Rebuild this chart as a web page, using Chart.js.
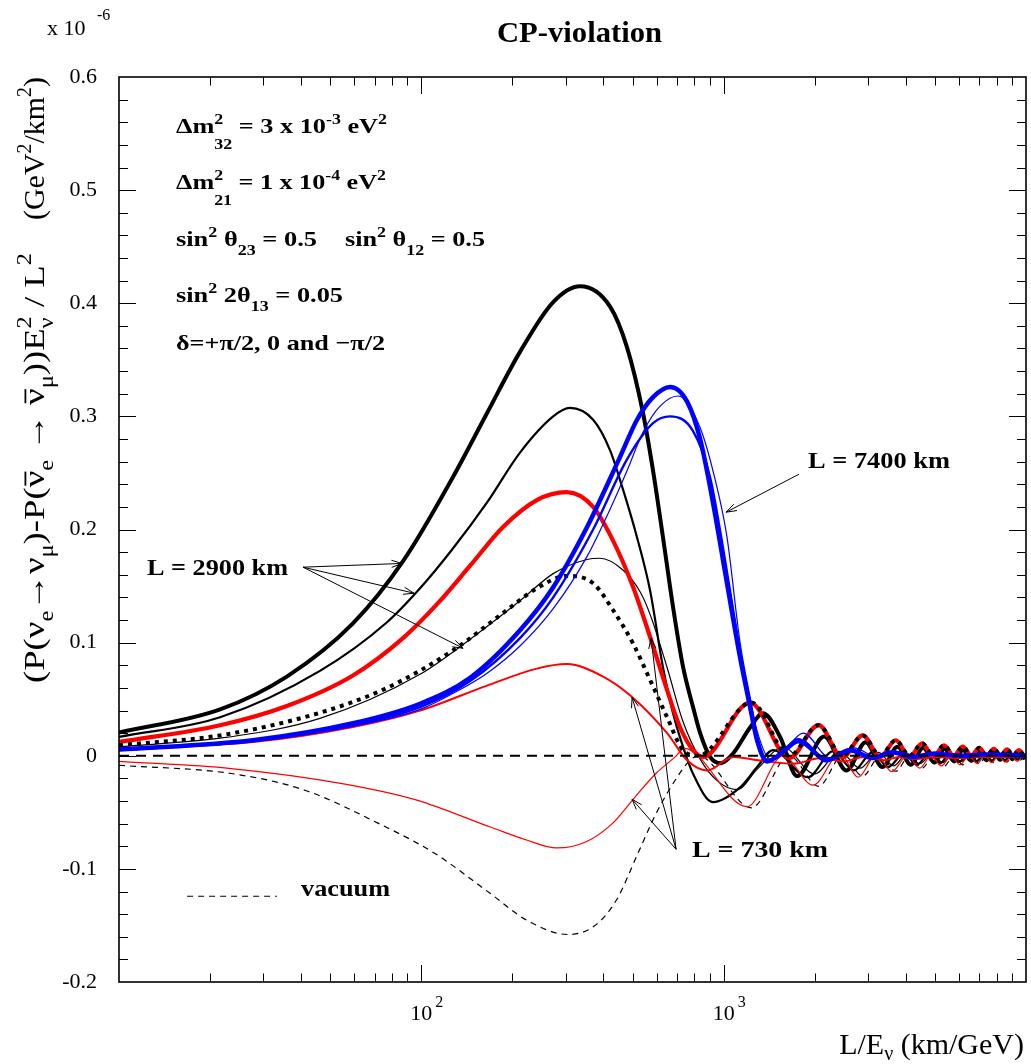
<!DOCTYPE html>
<html><head><meta charset="utf-8">
<script src="https://cdn.jsdelivr.net/npm/chart.js@4.4.1/dist/chart.umd.min.js"></script>
<style>html,body{margin:0;padding:0;background:#fff}#wrap{width:1031px;height:1064px}</style>
</head><body><div id="wrap"><canvas id="c" width="1031" height="1064"></canvas></div>
<script>
// ---------------- data ----------------
// L = 2900 km (black)
const aX = [10,21.6,35.9,59.4,87,127,165,212,273,335,421,479,541,584,630,680,734,792,836,902,973,1074,1223,1350,1537,1750,2150,2550,2950,3350,3760,4160,4570,4970,5380,5780,6190,6590,7000,7400,7810,8210,8620,9020,9430,9830,10000];
const aY = [0.0205,0.041,0.070,0.117,0.172,0.246,0.303,0.357,0.401,0.415,0.397,0.361,0.303,0.252,0.193,0.1316,0.0785,0.043,0.020,-0.001,-0.0066,0.002,0.025,0.0375,0.0166,-0.018,0.017,-0.013,0.012,-0.010,0.008,-0.008,0.007,-0.006,0.006,-0.005,0.005,-0.0045,0.0045,-0.004,0.004,-0.0035,0.0035,-0.003,0.003,-0.002,0];
const bX = [10,21.6,46.2,77,99,127,165,212,273,310,370,421,465,517,571,630,680,734,792,922,1133,1290,1457,1900,2300,2700,3100,3500,3950,4350,4800,5200,5600,6000,6450,6850,7250,7700,8100,8500,8950,9350,9800,10000];
const bY = [0.0166,0.034,0.075,0.118,0.148,0.183,0.224,0.268,0.300,0.3075,0.297,0.270,0.235,0.193,0.146,0.078,0.0375,0.0078,-0.016,-0.041,-0.028,-0.010,0.005,-0.019,0.004,-0.013,0.003,-0.010,0.002,-0.008,0.002,-0.0065,0.002,-0.0055,0.0015,-0.005,0.001,-0.0045,0.001,-0.004,0.001,-0.0035,0,-0.001];
const eX = [10,21.6,46.2,99,145,212,273,353,390,465,529,571,650,734,836,951,1108,1290,1573,2000,2420,2820,3250,3650,4050,4450,4900,5300,5700,6100,6500,6900,7350,7750,8150,8550,8950,9350,9800,10000];
const eY = [0.008,0.0155,0.033,0.072,0.103,0.137,0.161,0.1735,0.1746,0.164,0.145,0.125,0.078,0.030,-0.003,-0.022,-0.030,-0.012,0.0075,-0.016,0.004,-0.011,0.003,-0.009,0.002,-0.007,0.0015,-0.006,0.001,-0.005,0.001,-0.0045,0.001,-0.004,0.0008,-0.0035,0.0008,-0.003,0,0];
// L = 730 km (red)
const cX = [10,21.6,35.9,59.4,87,112.7,145,186,241,303,370,431,502,571,650,718,792,855,1223,1648,2060,2472,2884,3296,3708,4120,4532,4944,5356,5768,6180,6592,7004,7416,7828,8240,8652,9064,9476,9888,10000];
const cY = [0.0122,0.027,0.044,0.071,0.104,0.134,0.168,0.202,0.226,0.233,0.22,0.19,0.149,0.105,0.058,0.025,0.005,-0.001,0.047,-0.002,0.027,-0.0015,0.018,-0.001,0.0137,-0.001,0.011,-0.001,0.0093,0,0.008,0,0.007,0,0.0062,0,0.0056,0,0.005,0,0.0003];
const iX = [10,27.7,59.4,99,165,241,303,399,490,650,757,881,1074,1300,1700,2100,2500,2900,3400,3800,4300,5000,6000,7000,8500,10000];
const iY = [0.0066,0.0122,0.0255,0.040,0.062,0.077,0.081,0.070,0.0535,0.020,-0.004,-0.013,-0.001,-0.004,-0.007,-0.002,-0.005,-0.001,-0.004,-0.001,-0.003,-0.001,-0.002,-0.001,-0.001,0];
const jX = [10,23.5,54.7,96,169,224,280,351,428,505,598,691,740,1195,1573,1976,2427,2784,3200,3600,4050,4450,4850,5250,5650,6050,6480,6900,7300,7700,8100,8550,8950,9350,9800,10000];
const jY = [-0.0049,-0.0113,-0.0246,-0.039,-0.063,-0.0747,-0.0815,-0.076,-0.060,-0.0376,-0.0155,-0.001,0.0066,-0.045,0.000,-0.026,0.002,-0.019,0.001,-0.014,0.0,-0.011,0,-0.009,0,-0.008,0,-0.007,0,-0.006,0,-0.0055,0,-0.005,0,0];
// vacuum (black dashed / dotted)
const dX = [10,21.6,46.2,77,127,186,241,303,370,431,502,571,650,734,824,1236,1648,2060,2472,2884,3296,3708,4120,4532,4944,5356,5768,6180,6592,7004,7416,7828,8240,8652,9064,9476,9888,10000];
const dY = [0.0093,0.018,0.038,0.060,0.093,0.126,0.148,0.159,0.1525,0.1286,0.099,0.067,0.034,0.005,0,0.047,0,0.027,0,0.018,0,0.0137,0,0.011,0,0.0093,0,0.008,0,0.007,0,0.0062,0,0.0056,0,0.005,0,0.0003];
const kX = [10,23.5,41.2,72.4,110.6,168.8,223.7,304.8,371,441,521,598,691,774,824,1236,1648,2060,2472,2884,3296,3708,4120,4532,4944,5356,5768,6180,6592,7004,7416,7828,8240,8652,9064,9476,9888,10000];
const kY = [-0.0084,-0.0157,-0.0305,-0.060,-0.0862,-0.1216,-0.1455,-0.158,-0.151,-0.128,-0.086,-0.051,-0.0217,-0.004,0,-0.046,0,-0.027,0,-0.018,0,-0.0137,0,-0.011,0,-0.0093,0,-0.008,0,-0.007,0,-0.0062,0,-0.0056,0,-0.005,0,-0.0003];
const zX = [10,10000];
const zY = [0,0];
// L = 7400 km (blue)
const fX = [10,27.7,59.4,99,145,212,273,353,454,517,584,665,757,836,923,995,1133,1223,1290,1392,1621,1763,2198,2619,3100,3600,4200,5000,6000,7500,10000];
const fY = [0.0055,0.0137,0.0287,0.046,0.069,0.111,0.149,0.202,0.264,0.297,0.317,0.326,0.313,0.280,0.223,0.173,0.087,0.043,0.0137,-0.005,0.0066,0.0137,-0.004,0.005,-0.002,0.003,-0.001,0.002,0,0.001,0];
const gX = [10,27.7,59.4,99,127,165,212,273,353,421,479,541,616,707,836,951,1026,1133,1223,1290,1430,1650,1831,2250,2700,3200,3700,4300,5000,6500,10000];
const gY = [0.005,0.013,0.026,0.041,0.055,0.073,0.097,0.130,0.176,0.218,0.252,0.286,0.309,0.318,0.290,0.237,0.193,0.10,0.052,0.022,-0.003,0.01,0.020,-0.002,0.007,-0.001,0.004,0,0.002,0.001,0];
const hX = [10,27.7,59.4,99,145,212,273,370,479,584,665,792,902,973,1133,1223,1290,1392,1621,1763,2198,2619,3100,3600,4200,5000,6000,10000];
const hY = [0.005,0.013,0.027,0.043,0.066,0.104,0.140,0.200,0.262,0.294,0.300,0.287,0.246,0.199,0.092,0.045,0.015,-0.004,0.006,0.012,-0.003,0.004,-0.002,0.003,-0.001,0.002,0,0];

// axis ticks
const xMajor = [100, 1000];
const xMajorExp = ['2', '3'];
const xMinorMult = [2,3,4,5,6,7,8,9];
const xDecades = [10, 100, 1000];
const yMin = -0.2, yMax = 0.6, yStep = 0.1, yMinorStep = 0.02;

// ---------------- drawing ----------------
const SERIF = '"Liberation Serif","Times New Roman",serif';
function ds(label, xs, ys, color, width, dash) {
  return { label, data: xs.map((x, i) => ({ x, y: ys[i] })), borderColor: color, borderWidth: width,
    borderDash: dash || [], pointRadius: 0, pointHoverRadius: 0, fill: false,
    cubicInterpolationMode: 'monotone', borderCapStyle: 'butt', borderJoinStyle: 'round' };
}
const datasets = [
  ds('vacuum δ=0', zX, zY, '#000', 2, [10, 7]),
  ds('7400 a', fX, fY, '#0000ff', 4.5),
  ds('7400 b', hX, hY, '#0000ff', 2.4),
  ds('7400 c', gX, gY, '#0000ff', 1.2),
  ds('vacuum +', dX, dY, '#000', 4, [4, 5]),
  ds('730 a', cX, cY, '#ff0000', 4.2),
  ds('730 b', iX, iY, '#ff0000', 2),
  ds('730 c', jX, jY, '#ff0000', 1.2),
  ds('2900 a', aX, aY, '#000', 4),
  ds('2900 b', bX, bY, '#000', 2.2),
  ds('2900 c', eX, eY, '#000', 1.2),
  ds('vacuum -', kX, kY, '#000', 1.2, [6, 5])
];

function richDraw(ctx, x0, y0, parts, doDraw) {
  let x = x0;
  for (const p of parts) {
    if (p.stack) {
      let w = 0;
      for (const s of p.stack) {
        ctx.font = s.font;
        if (doDraw) ctx.fillText(s.t, x, y0 + (s.dy || 0));
        w = Math.max(w, ctx.measureText(s.t).width);
      }
      x += w;
    } else {
      ctx.font = p.font;
      const w = ctx.measureText(p.t).width;
      if (doDraw) {
        ctx.fillText(p.t, x, y0 + (p.dy || 0));
        if (p.bar) {
          ctx.save(); ctx.lineWidth = Math.max(1, p.size * 0.06);
          ctx.beginPath(); ctx.moveTo(x + w * 0.1, y0 - p.size * 0.62); ctx.lineTo(x + w * 0.95, y0 - p.size * 0.62); ctx.stroke();
          ctx.restore();
        }
      }
      x += w;
    }
  }
  return x - x0;
}
function F(t, size, bold, dy, extra) {
  return Object.assign({ t, size, font: (bold ? 'bold ' : '') + size + 'px ' + SERIF, dy: dy || 0 }, extra || {});
}
// draw rich text stretched horizontally so it spans [x0, x1]
function fitRich(ctx, x0, x1, y0, parts) {
  const w = richDraw(ctx, 0, 0, parts, false);
  const sx = (x1 - x0) / w;
  ctx.save(); ctx.translate(x0, y0); ctx.scale(sx, 1);
  richDraw(ctx, 0, 0, parts, true);
  ctx.restore();
}

function arrow(ctx, x1, y1, x2, y2) {
  ctx.beginPath(); ctx.moveTo(x1, y1); ctx.lineTo(x2, y2); ctx.stroke();
  const ang = Math.atan2(y2 - y1, x2 - x1), L = 11, h = 0.33;
  ctx.beginPath();
  ctx.moveTo(x2 - L * Math.cos(ang - h), y2 - L * Math.sin(ang - h));
  ctx.lineTo(x2, y2);
  ctx.lineTo(x2 - L * Math.cos(ang + h), y2 - L * Math.sin(ang + h));
  ctx.stroke();
}

const deco = {
  id: 'deco',
  afterDraw(chart) {
    const { ctx, chartArea: a, scales: { x, y } } = chart;
    ctx.save();
    ctx.fillStyle = '#000'; ctx.strokeStyle = '#000';
    // ticks
    ctx.lineWidth = 1;
    ctx.beginPath();
    for (const d of xDecades) for (const m of [1, ...xMinorMult]) {
      const v = d * m;
      if (v <= 10 || v >= 10000) continue;
      const px = Math.round(x.getPixelForValue(v)) + 0.5;
      const len = m === 1 ? 17 : 8.5;
      ctx.moveTo(px, a.bottom); ctx.lineTo(px, a.bottom - len);
      ctx.moveTo(px, a.top); ctx.lineTo(px, a.top + len);
    }
    const nMinor = Math.round((yMax - yMin) / yMinorStep);
    for (let k = 1; k < nMinor; k++) {
      const v = yMin + k * yMinorStep;
      const py = Math.round(y.getPixelForValue(v)) + 0.5;
      const len = (k % 5 === 0) ? 17 : 9;
      ctx.moveTo(a.left, py); ctx.lineTo(a.left + len, py);
      ctx.moveTo(a.right, py); ctx.lineTo(a.right - len, py);
    }
    ctx.stroke();
    // frame
    ctx.lineWidth = 1.6;
    ctx.strokeRect(a.left, a.top, a.right - a.left, a.bottom - a.top);

    // x tick labels 10^n
    ctx.textBaseline = 'alphabetic';
    xMajor.forEach((v, i) => {
      const px = x.getPixelForValue(v);
      ctx.font = '22px ' + SERIF; ctx.textAlign = 'center';
      ctx.fillText('10', px, 1020);
      ctx.font = '16px ' + SERIF; ctx.textAlign = 'left';
      ctx.fillText(xMajorExp[i], px + 14, 1007);
    });
    ctx.textAlign = 'left';
    // x axis title
    {
      const parts = [F('L/E', 30), F('ν', 20, false, 6), F(' (km/GeV)', 30)];
      const w = richDraw(ctx, 0, 0, parts, false);
      richDraw(ctx, 1024 - w, 1054, parts, true);
    }
    // x 10^-6
    ctx.font = '22px ' + SERIF; ctx.fillText('x 10', 47, 35);
    ctx.font = '16px ' + SERIF; ctx.fillText('-6', 97, 20);
    // title
    fitRich(ctx, 497, 662, 42, [F('CP-violation', 29, true)]);

    // y axis title (rotated)
    {
      const mk = (s) => {
        const N = (t, ex) => F(t, s, false, 0, ex), S = (t) => F(t, Math.round(s * 0.68), false, s * 0.3), U = (t) => F(t, Math.round(s * 0.68), false, -s * 0.42);
        return {
          main: [N('(P('), N('ν'), S('e'), N('→'), N('ν'), S('μ'), N(')-P('), N('ν', { bar: true }), S('e'), N(' → '), N('ν', { bar: true }), S('μ'), N('))E'),
                 { stack: [U('2'), S('ν')] }, N(' / L'), U('2')],
          units: [N('(GeV'), U('2'), N('/km'), U('2'), N(')')]
        };
      };
      ctx.save();
      ctx.translate(44, 0);
      ctx.rotate(-Math.PI / 2);
      const p = mk(30);
      fitRich(ctx, -683, -253, 0, p.main);
      fitRich(ctx, -220, -77, 0, p.units);
      ctx.restore();
    }

    // parameter block
    {
      const B = 22, b = 15;
      const T = (t) => F(t, B, true), SUP = (t) => F(t, b, true, -9), SUB = (t) => F(t, b, true, 9);
      fitRich(ctx, 176, 387, 133, [T('Δm'), { stack: [SUP('2'), F('32', b, true, 16)] }, T(' = 3 x 10'), SUP('-3'), T(' eV'), SUP('2')]);
      fitRich(ctx, 176, 386, 189, [T('Δm'), { stack: [SUP('2'), F('21', b, true, 16)] }, T(' = 1 x 10'), SUP('-4'), T(' eV'), SUP('2')]);
      fitRich(ctx, 176, 317, 246, [T('sin'), SUP('2'), T(' θ'), SUB('23'), T(' = 0.5')]);
      fitRich(ctx, 345, 485, 246, [T('sin'), SUP('2'), T(' θ'), SUB('12'), T(' = 0.5')]);
      fitRich(ctx, 176, 343, 302, [T('sin'), SUP('2'), T(' 2θ'), SUB('13'), T(' = 0.05')]);
      fitRich(ctx, 176, 385, 350, [T('δ=+π/2, 0 and −π/2')]);
    }

    // labels
    fitRich(ctx, 147, 288, 575, [F('L = 2900 km', 23, true)]);
    fitRich(ctx, 808, 950, 468, [F('L = 7400 km', 23, true)]);
    fitRich(ctx, 692, 828, 857, [F('L = 730 km', 23, true)]);
    fitRich(ctx, 301, 390, 896, [F('vacuum', 24, true)]);

    // arrows (in data coordinates)
    ctx.lineWidth = 1;
    const P = (vx, vy) => [x.getPixelForValue(vx), y.getPixelForValue(vy)];
    const arrows = [
      [[40.6, 0.1667], [86.3, 0.170]],
      [[40.6, 0.1667], [94.6, 0.1437]],
      [[40.6, 0.1667], [137.4, 0.095]],
      [[1776, 0.2489], [1019, 0.2153]],
      [[696, -0.0827], [497.8, 0.0517]],
      [[696, -0.0827], [575.3, 0.1039]],
      [[696, -0.0827], [497.8, -0.0385]]
    ];
    for (const [s, e] of arrows) {
      const [x1, y1] = P(s[0], s[1]), [x2, y2] = P(e[0], e[1]);
      arrow(ctx, x1, y1, x2, y2);
    }
    // vacuum legend line
    ctx.setLineDash([6, 5]); ctx.lineWidth = 1.2;
    const [lx1, ly] = P(16.8, -0.1242), [lx2] = P(33.3, -0.1242);
    ctx.beginPath(); ctx.moveTo(lx1, ly); ctx.lineTo(lx2, ly); ctx.stroke();
    ctx.setLineDash([]);
    ctx.restore();
  }
};

new Chart(document.getElementById('c'), {
  type: 'line',
  data: { datasets },
  options: {
    responsive: false, animation: false, events: [],
    layout: { padding: { left: 0, right: 5, top: 77, bottom: 22 } },
    plugins: { legend: { display: false }, tooltip: { enabled: false }, title: { display: false } },
    scales: {
      x: { type: 'logarithmic', min: 10, max: 10000, grid: { display: false, drawTicks: false }, border: { display: false },
           ticks: { display: false }, afterFit: (s) => { s.height = 60; } },
      y: { type: 'linear', min: yMin, max: yMax, grid: { display: false, drawTicks: false }, border: { display: false },
           ticks: { stepSize: yStep, padding: 22, color: '#000', font: { family: SERIF, size: 22 },
                    callback: (v) => Math.abs(v) < 1e-9 ? '0' : (+v.toFixed(1)).toString() },
           afterFit: (s) => { s.width = 119; } }
    }
  },
  plugins: [deco]
});
</script>
</body></html>
